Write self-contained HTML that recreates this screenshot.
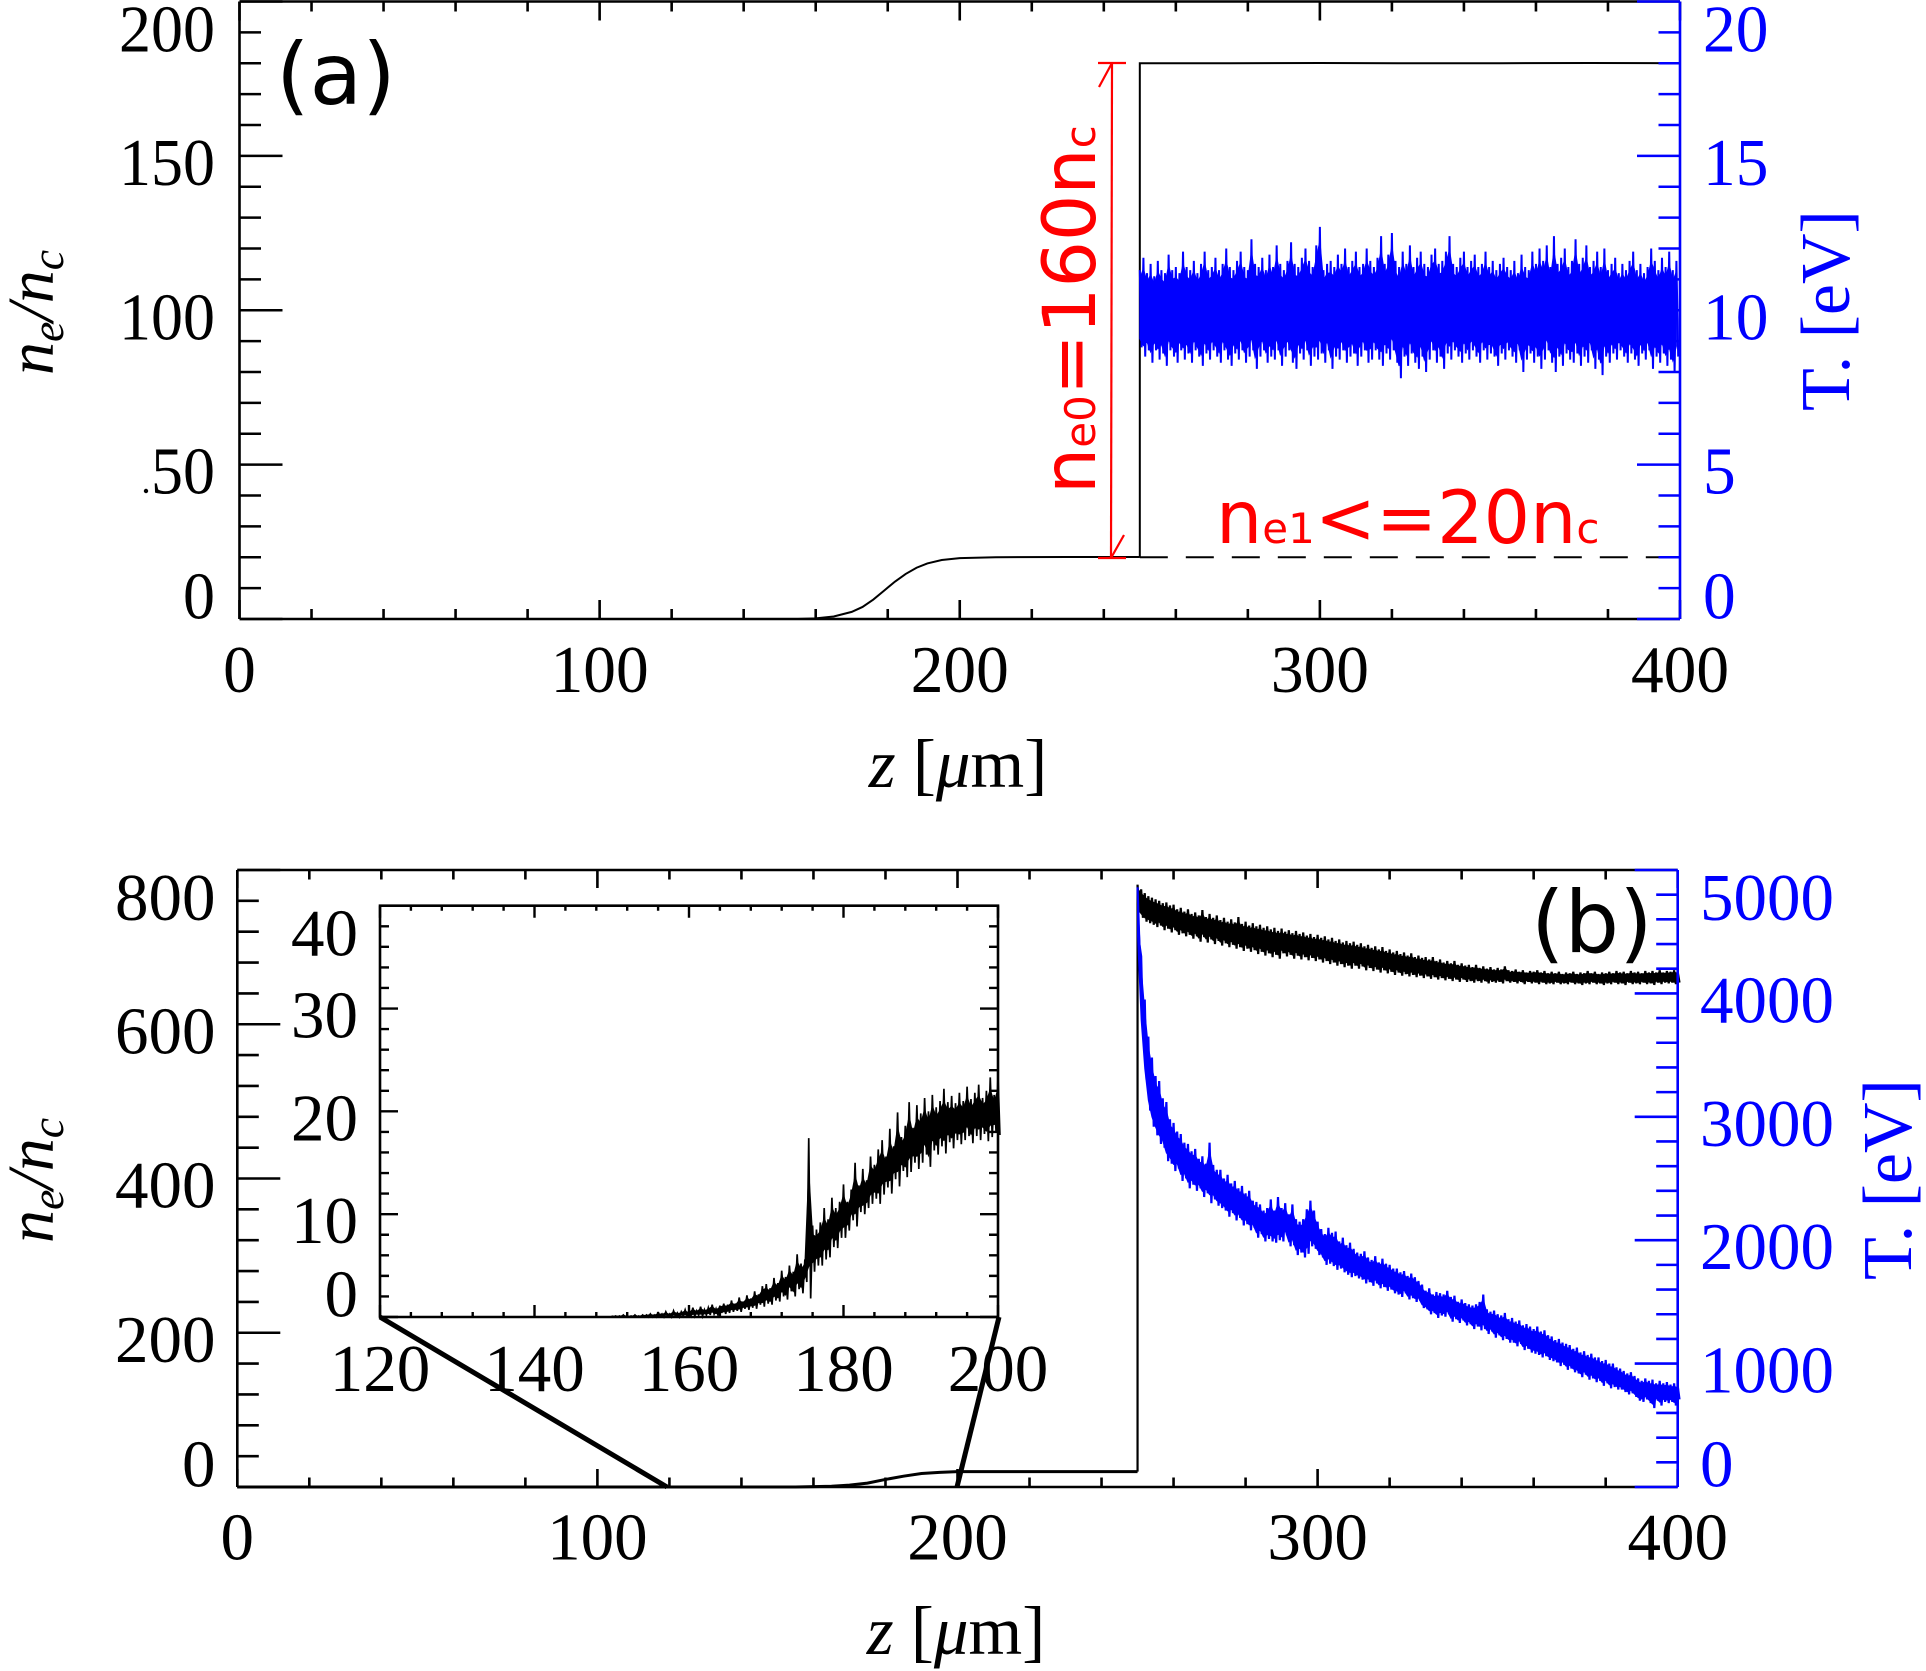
<!DOCTYPE html>
<html lang="en">
<head>
<meta charset="utf-8">
<title>Electron density and temperature profiles</title>
<style>
html,body{margin:0;padding:0;background:#fff;}
svg{display:block;}
text{font-family:"Liberation Serif",serif;}
.dj{font-family:"DejaVu Sans",sans-serif;}
</style>
</head>
<body>
<svg id="fig" xmlns="http://www.w3.org/2000/svg" width="1926" height="1671" viewBox="0 0 1926 1671">
  <rect x="0" y="0" width="1926" height="1671" fill="#fff"/>

  <g id="panel-a">
    <path id="a-low-line" fill="none" stroke="#000" stroke-width="2"/>
    <path id="a-step-line" fill="none" stroke="#000" stroke-width="2"/>
    <path id="a-dash-line" fill="none" stroke="#000" stroke-width="2" stroke-dasharray="28 18"/>
    <path id="a-temp-line" fill="none" stroke="#0000ff" stroke-width="2"/>
    <path id="a-temp-core" fill="#0000ff" stroke="#0000ff" stroke-width="1"/>
    <path id="a-frame" fill="none" stroke="#000" stroke-width="2.6"/>
    <path id="a-x-ticks" fill="none" stroke="#000" stroke-width="2.6"/>
    <path id="a-left-ticks" fill="none" stroke="#000" stroke-width="2.6"/>
    <path id="a-right-ticks" fill="none" stroke="#0000ff" stroke-width="2.6"/>
    <path id="a-right-axis" fill="none" stroke="#0000ff" stroke-width="2.6"/>
    <circle cx="146" cy="491" r="2.2" fill="#000"/>
    <text class="dj" x="276" y="104" font-size="86" fill="#000">(a)</text>
    <text x="958" y="787" font-size="69" text-anchor="middle" fill="#000"><tspan font-style="italic">z</tspan> [<tspan font-style="italic">μ</tspan>m]</text>
    <text transform="translate(53 375) rotate(-90)" font-size="66" font-style="italic" fill="#000">n<tspan font-size="46" dy="10">e</tspan><tspan dy="-10">/n</tspan><tspan font-size="46" dy="10">c</tspan></text>
    <text transform="translate(1849 411) rotate(-90)" font-size="70" fill="#0000ff">T. [eV]</text>
    <text class="dj" transform="translate(1095 494) rotate(-90)" font-size="73" fill="#ff0000">n<tspan font-size="42">e0</tspan>=160n<tspan font-size="42">c</tspan></text>
    <text class="dj" x="1216" y="543" font-size="73" fill="#ff0000">n<tspan font-size="42">e1</tspan>&lt;=20n<tspan font-size="42">c</tspan></text>
    <g fill="none" stroke="#ff0000" stroke-width="2.2">
      <path d="M1112 63L1111 558"/>
      <path d="M1098 63H1126M1112 63L1099 87"/>
      <path d="M1098 558H1126M1111 558L1124 535"/>
    </g>
  </g>

  <g id="panel-b">
    <path id="b-low-line" fill="none" stroke="#000" stroke-width="3"/>
    <path id="b-density-line" fill="none" stroke="#000" stroke-width="2.2"/>
    <path id="b-density-core" fill="#000" stroke="#000" stroke-width="1"/>
    <path id="b-temp-line" fill="none" stroke="#0000ff" stroke-width="2.2"/>
    <path id="b-temp-core" fill="#0000ff" stroke="#0000ff" stroke-width="1"/>
    <path id="b-frame" fill="none" stroke="#000" stroke-width="2.6"/>
    <path id="b-x-ticks" fill="none" stroke="#000" stroke-width="2.6"/>
    <path id="b-left-ticks" fill="none" stroke="#000" stroke-width="2.6"/>
    <path id="b-right-ticks" fill="none" stroke="#0000ff" stroke-width="2.6"/>
    <path id="b-right-axis" fill="none" stroke="#0000ff" stroke-width="2.6"/>
    <text class="dj" x="1531" y="952" font-size="86" fill="#000">(b)</text>
    <text x="956" y="1654" font-size="69" text-anchor="middle" fill="#000"><tspan font-style="italic">z</tspan> [<tspan font-style="italic">μ</tspan>m]</text>
    <text transform="translate(53 1243) rotate(-90)" font-size="66" font-style="italic" fill="#000">n<tspan font-size="46" dy="10">e</tspan><tspan dy="-10">/n</tspan><tspan font-size="46" dy="10">c</tspan></text>
    <text transform="translate(1911 1280) rotate(-90)" font-size="70" fill="#0000ff">T. [eV]</text>
    <path d="M380 1317L667 1487" fill="none" stroke="#000" stroke-width="5"/>
    <path d="M999 1317L957 1487" fill="none" stroke="#000" stroke-width="5"/>
  </g>

  <g id="panel-inset">
    <path id="i-line" fill="none" stroke="#000" stroke-width="1.7"/>
    <path id="i-core" fill="#000" stroke="#000" stroke-width="1"/>
    <path id="i-frame" fill="none" stroke="#000" stroke-width="2.6"/>
    <path id="i-x-ticks" fill="none" stroke="#000" stroke-width="2.4"/>
    <path id="i-y-ticks" fill="none" stroke="#000" stroke-width="2.4"/>
  </g>
  <g id="tick-labels"></g>
</svg>
<script>
// ---------- tick values ----------
const zTicks = [0, 100, 200, 300, 400];
const zTickLabels = ['0', '100', '200', '300', '400'];
const zMinorStep = 20;
const aDensityTicks = [0, 50, 100, 150, 200];
const aDensityLabels = ['0', '50', '100', '150', '200'];
const aDensityMinorStep = 10;
const aTempTicks = [0, 5, 10, 15, 20];
const aTempLabels = ['0', '5', '10', '15', '20'];
const aTempMinorStep = 1;
const bDensityTicks = [0, 200, 400, 600, 800];
const bDensityLabels = ['0', '200', '400', '600', '800'];
const bDensityMinorStep = 40;
const bTempTicks = [0, 1000, 2000, 3000, 4000, 5000];
const bTempLabels = ['0', '1000', '2000', '3000', '4000', '5000'];
const bTempMinorStep = 200;
const insetZTicks = [120, 140, 160, 180, 200];
const insetZLabels = ['120', '140', '160', '180', '200'];
const insetZMinorStep = 4;
const insetDensityTicks = [0, 10, 20, 30, 40];
const insetDensityLabels = ['0', '10', '20', '30', '40'];
const insetDensityMinorStep = 2;

// ---------- panel (a) data ----------
const aRampZ = [0, 155, 160, 165, 170, 173, 176, 179, 182, 185, 188, 191, 195, 200, 210, 230, 250];
const aRampN = [0, 0, 0.2, 0.8, 2.3, 3.9, 6.3, 9.2, 12.1, 14.6, 16.6, 18, 19.1, 19.7, 20, 20.1, 20.1];
const aStepZ = [250, 250, 275, 300, 325, 350, 375, 400];
const aStepN = [20, 180, 180, 180.1, 180, 180, 180.1, 180];
const aDashZ = [250, 400];
const aDashN = [20, 20];
const aTempStartZ = 250;
const aTempStepZ = 1;
const aTempHi = [11.3,11.7,11.2,11.5,11.1,11.6,11.3,11.2,11.8,11.3,11.4,11.2,11.9,11.4,11.3,11.6,11.2,11.5,11.9,11.3,
11.4,11.7,11.3,11.5,12.0,11.4,11.3,11.6,11.9,11.4,11.3,12.3,11.5,11.4,11.7,11.3,11.8,11.4,12.1,11.5,
11.3,11.6,12.2,11.5,11.4,11.7,12.0,11.6,11.4,12.1,12.7,11.3,11.5,11.6,11.4,11.8,11.5,12.0,11.4,11.6,
11.9,11.4,11.5,12.0,11.6,11.4,11.7,12.4,11.5,11.8,12.5,11.6,11.4,11.9,11.5,12.1,11.4,11.7,11.9,11.5,
11.4,11.8,12.0,11.5,11.6,11.9,12.4,11.5,11.4,11.7,11.9,11.4,11.6,11.8,11.4,11.5,11.9,11.4,11.6,11.3,
11.5,11.7,11.4,11.3,11.6,11.2,11.8,11.4,11.3,11.9,11.5,12.0,11.6,12.1,11.4,12.4,11.5,11.7,12.0,11.4,
11.6,12.3,11.5,11.7,12.1,11.4,11.6,11.9,11.4,12.0,11.3,11.5,11.7,11.2,11.5,11.3,11.6,11.9,11.3,11.5,
11.2,11.4,12.0,11.6,11.3,11.7,11.4,11.9,11.3,11.6];
const aTempLo = [8.8,8.5,8.7,8.3,8.7,8.4,8.6,8.2,8.7,8.5,8.3,8.7,8.4,8.6,8.3,8.7,8.5,8.2,8.6,8.4,
8.7,8.5,8.3,8.7,8.4,8.2,8.6,8.4,8.7,8.3,8.5,8.7,8.1,8.5,8.7,8.3,8.5,8.4,8.7,8.2,
8.5,8.7,8.3,8.1,8.6,8.4,8.7,8.2,8.5,8.4,8.6,8.3,8.7,8.1,8.5,8.4,8.7,8.3,8.5,8.6,
8.2,8.5,8.7,8.3,8.4,8.7,8.4,8.2,8.6,8.4,8.7,8.3,7.8,8.5,8.2,8.6,8.3,8.1,8.5,8.0,
8.4,8.7,8.3,8.5,8.1,8.6,8.4,8.7,8.5,8.3,8.6,8.4,8.7,8.5,8.3,8.7,8.4,8.6,8.5,8.2,
8.6,8.4,8.7,8.5,8.3,8.7,8.0,8.4,8.6,8.3,8.5,8.1,8.4,8.7,8.3,8.0,8.5,8.2,8.6,8.4,
8.3,8.6,8.2,8.5,8.3,8.7,8.1,8.4,7.9,8.5,8.3,8.6,8.4,8.7,8.5,8.3,8.6,8.4,8.2,8.6,
8.4,8.7,8.1,8.5,8.3,8.6,8.2,8.4,8.0,8.5];

// ---------- panel (b) data ----------
const bLowZ = [0, 155, 165, 170, 175, 180, 185, 190, 195, 200, 220, 250];
const bLowN = [0, 0, 1, 2.5, 5, 9.8, 14, 17.5, 19, 20, 20, 20];
const bStartZ = 250;
const bStepZ = 1;
const bDensityHi = [781,775,770,766,764,762,760,757,758,754,755,749,751,746,749,743,745,741,748,739,
743,738,741,735,738,733,736,732,739,730,733,728,731,727,729,725,727,723,725,721,
724,720,722,718,721,717,719,715,717,713,716,712,714,710,712,708,710,706,708,705,
707,703,705,701,703,699,701,697,700,695,697,693,695,691,693,689,692,687,689,686,
687,684,687,682,684,680,682,679,682,677,679,676,677,674,677,673,675,672,674,671,
673,671,675,670,669,671,668,670,667,669,668,670,667,669,666,668,666,668,665,667,
666,668,665,667,666,669,666,668,665,667,666,668,666,669,667,668,666,669,667,668,
666,669,667,669,667,670,667,669,668,670,668];
const bDensityLo = [745,738,733,731,729,726,728,722,724,719,722,716,718,714,716,711,714,707,713,706,
710,704,708,702,705,700,703,698,700,695,698,694,696,691,694,689,692,687,690,685,
692,688,690,685,689,684,687,683,686,682,684,680,682,678,680,676,678,674,676,672,
676,672,675,670,673,669,671,667,670,666,668,664,667,663,665,662,664,661,663,660,
662,659,661,658,660,657,659,656,658,655,658,655,656,654,656,654,656,653,655,654,
655,653,656,654,655,653,655,652,655,653,654,652,654,652,653,652,654,652,653,652,
654,652,653,651,653,652,654,652,653,651,653,652,654,652,653,651,654,652,653,652,
654,652,653,651,654,652,654,653,654,652,654];
const bTempHi = [4860,4300,3950,3650,3480,3330,3290,3150,3120,2980,2950,2880,2860,2790,2780,2720,2740,2660,2680,2620,
2790,2610,2570,2570,2500,2530,2460,2480,2420,2440,2380,2400,2320,2310,2290,2240,2260,2330,2240,2350,
2260,2300,2210,2290,2170,2150,2170,2250,2320,2240,2150,2090,2050,2100,2060,2070,1990,2020,1960,1980,
1930,1900,1890,1910,1860,1840,1870,1820,1850,1810,1800,1770,1770,1740,1750,1710,1730,1700,1670,1640,
1590,1610,1560,1580,1570,1560,1590,1540,1550,1500,1520,1490,1480,1470,1480,1500,1560,1440,1420,1430,
1400,1390,1410,1360,1370,1340,1350,1310,1320,1300,1280,1300,1260,1270,1230,1220,1190,1200,1170,1160,
1150,1120,1130,1090,1100,1070,1080,1050,1050,1020,1030,1000,1000,970,960,940,920,930,900,880,
860,880,860,870,840,860,840,850,830,840,820];
const bTempLo = [4400,3700,3300,3050,2920,2850,2780,2750,2640,2620,2560,2580,2480,2500,2420,2450,2400,2420,2350,2380,
2300,2330,2280,2260,2240,2190,2220,2160,2180,2120,2130,2080,2100,2020,2050,1990,2010,1990,1980,2000,
1990,2040,1950,1960,1880,1900,1860,1890,1950,1930,1880,1860,1800,1810,1790,1760,1770,1740,1720,1700,
1710,1690,1680,1650,1660,1630,1650,1610,1620,1590,1600,1570,1560,1540,1570,1520,1530,1500,1510,1450,
1440,1400,1410,1370,1390,1380,1400,1340,1360,1330,1350,1310,1320,1280,1300,1270,1280,1240,1260,1210,
1230,1190,1200,1170,1170,1140,1160,1110,1120,1090,1080,1070,1050,1060,1030,1020,1010,980,990,950,
960,930,920,890,910,870,880,850,860,820,840,800,810,790,790,770,750,760,730,700,
690,710,680,640,700,660,690,680,690,660,710];

// ---------- inset data ----------
const insetStartZ = 150;
const insetStepZ = 0.5;
const insetHi = [0.1,0.1,0.1,0.2,0.1,0.1,0.2,0.1,0.2,0.2,
0.3,0.2,0.4,0.3,0.5,0.3,0.6,0.4,0.5,0.7,
0.5,0.9,0.6,1.0,0.7,0.9,1.2,0.8,1.1,1.3,
1.2,1.6,1.3,1.9,1.5,2.1,1.8,2.5,2.2,3.0,
3.2,2.8,3.8,3.3,4.5,3.9,5.0,4.4,6.1,5.2,
5.6,17.4,8.9,8.5,9.2,10.6,9.5,11.6,10.6,11.2,
12.9,11.2,12.4,15.0,12.8,14.4,13.3,15.6,14.8,16.3,
17.2,15.6,18.3,16.6,19.9,17.5,18.6,20.9,18.4,20.6,
19.8,21.3,20.0,21.6,20.4,21.0,22.2,20.9,21.5,20.8,
21.8,21.0,22.4,21.2,21.8,22.6,21.3,22.0,23.3,21.6,
23.4];
const insetLo = [0,0,0,0,0,0,0,0,0,0,
0,0,0.1,0,0.1,0,0.1,0,0.1,0.1,
0.1,0.1,0.2,0.1,0.2,0.2,0.3,0.2,0.4,0.3,
0.4,0.5,0.6,0.5,0.8,0.7,0.9,0.8,1.2,1.0,
1.3,1.2,1.6,1.5,2.0,1.7,2.5,2.0,2.7,2.3,
3.4,1.8,4.4,5.0,5.0,5.6,5.8,6.8,6.7,7.7,
7.7,8.4,9.4,8.8,10.2,10.0,10.6,11.0,11.5,11.0,
11.9,12.6,12.0,13.4,12.7,14.2,13.6,14.1,15.0,14.4,
15.0,15.8,14.6,16.2,15.8,16.6,15.9,17.0,16.4,17.2,
16.8,17.2,17.6,16.9,17.6,17.2,17.8,17.1,17.5,18.0,
17.7];

// ---------- axis functions ----------
function linear(d0, d1, r0, r1) {
  return function (v) { return r0 + (v - d0) * (r1 - r0) / (d1 - d0); };
}
const aX = linear(0, 400, 239.5, 1680);
const aYN = linear(0, 200, 619, 1.5);
const aYT = linear(0, 20, 619, 1.5);
const bX = linear(0, 400, 237.3, 1677.7);
const bYN = linear(0, 800, 1487, 870);
const bYT = linear(0, 5000, 1487, 870);
const iX = linear(120, 200, 380, 998);
const iY = linear(0, 40, 1317, 905.7);

function byId(id) { return document.getElementById(id); }

function linePath(xs, ys, xf, yf) {
  let d = '';
  for (let i = 0; i < xs.length; i++) {
    d += (i ? 'L' : 'M') + xf(xs[i]).toFixed(2) + ' ' + yf(ys[i]).toFixed(2);
  }
  return d;
}
function zigzagPath(startZ, stepZ, hi, lo, xf, yf) {
  let d = '';
  for (let i = 0; i < hi.length; i++) {
    const z = startZ + i * stepZ;
    d += (i ? 'L' : 'M') + xf(z).toFixed(2) + ' ' + yf(hi[i]).toFixed(2);
    d += 'L' + xf(z + stepZ / 2).toFixed(2) + ' ' + yf(lo[i]).toFixed(2);
  }
  return d;
}
// Closed solid core of a noisy band: the inner share of each hi/lo span.
function corePath(startZ, stepZ, hi, lo, share, xf, yf) {
  let top = '', bottom = '';
  for (let i = 0; i < hi.length; i++) {
    const z = startZ + i * stepZ;
    const mid = (hi[i] + lo[i]) / 2;
    const half = (hi[i] - lo[i]) / 2 * share;
    top += (i ? 'L' : 'M') + xf(z).toFixed(2) + ' ' + yf(mid + half).toFixed(2);
    bottom = 'L' + xf(z).toFixed(2) + ' ' + yf(mid - half).toFixed(2) + bottom;
  }
  return top + bottom + 'Z';
}
function tickValues(majors, minorStep) {
  const out = [];
  const lo = majors[0], hi = majors[majors.length - 1];
  const n = Math.round((hi - lo) / minorStep);
  for (let i = 0; i <= n; i++) {
    const v = lo + i * minorStep;
    out.push({ v: v, major: majors.indexOf(v) >= 0 });
  }
  return out;
}
function xTickPath(majors, minorStep, xf, yBottom, yTop, lenMajor, lenMinor) {
  let d = '';
  tickValues(majors, minorStep).forEach(function (t) {
    const L = t.major ? lenMajor : lenMinor;
    const x = xf(t.v).toFixed(2);
    d += 'M' + x + ' ' + yBottom + 'V' + (yBottom - L);
    d += 'M' + x + ' ' + yTop + 'V' + (yTop + L);
  });
  return d;
}
function yTickPath(majors, minorStep, yf, xEdge, dir, lenMajor, lenMinor) {
  let d = '';
  tickValues(majors, minorStep).forEach(function (t) {
    const L = t.major ? lenMajor : lenMinor;
    const y = yf(t.v).toFixed(2);
    d += 'M' + xEdge + ' ' + y + 'H' + (xEdge + dir * L);
  });
  return d;
}

const labelsGroup = byId('tick-labels');
function addLabel(str, x, y, anchor, size, color, charWidth) {
  const el = document.createElementNS('http://www.w3.org/2000/svg', 'text');
  
  
  el.setAttribute('x', x);
  el.setAttribute('y', y);
  el.setAttribute('text-anchor', anchor);
  el.setAttribute('font-size', size);
  el.setAttribute('fill', color);
  if (charWidth) {
    el.setAttribute('textLength', str.length * charWidth);
    el.setAttribute('lengthAdjust', 'spacingAndGlyphs');
  }
  el.textContent = str;
  labelsGroup.appendChild(el);
}
function yLabelBaseline(y, idx, count) {
  if (idx === 0) return y - 0.5;
  if (idx === count - 1) return y + 50;
  return y + 29;
}
function yLabels(ticks, labels, yf, x, anchor, size, color, charWidth) {
  ticks.forEach(function (v, i) {
    addLabel(labels[i], x, yLabelBaseline(yf(v), i, ticks.length), anchor, size, color, charWidth);
  });
}
function xLabels(ticks, labels, xf, y, size, charWidth) {
  ticks.forEach(function (v, i) {
    addLabel(labels[i], xf(v), y, 'middle', size, '#000', charWidth);
  });
}

// ---------- panel (a) ----------
byId('a-frame').setAttribute('d', 'M239.5 1.5H1680M239.5 1.5V619M239.5 619H1680');
byId('a-right-axis').setAttribute('d', 'M1680 1.5V619');
byId('a-x-ticks').setAttribute('d', xTickPath(zTicks, zMinorStep, aX, 619, 1.5, 19, 10));
byId('a-left-ticks').setAttribute('d', yTickPath(aDensityTicks, aDensityMinorStep, aYN, 239.5, 1, 43, 21.5));
byId('a-right-ticks').setAttribute('d', yTickPath(aTempTicks, aTempMinorStep, aYT, 1680, -1, 43, 21.5));
byId('a-low-line').setAttribute('d', linePath(aRampZ, aRampN, aX, aYN));
byId('a-step-line').setAttribute('d', linePath(aStepZ, aStepN, aX, aYN));
byId('a-dash-line').setAttribute('d', linePath(aDashZ, aDashN, aX, aYN));
byId('a-temp-line').setAttribute('d', zigzagPath(aTempStartZ, aTempStepZ, aTempHi, aTempLo, aX, aYT));
byId('a-temp-core').setAttribute('d', corePath(aTempStartZ, aTempStepZ, aTempHi, aTempLo, 0.78, aX, aYT));
xLabels(zTicks, zTickLabels, aX, 692, 67, 32.7);
yLabels(aDensityTicks, aDensityLabels, aYN, 215, 'end', 67, '#000', 32);
yLabels(aTempTicks, aTempLabels, aYT, 1703, 'start', 67, '#0000ff', 32.7);

// ---------- panel (b) ----------
byId('b-frame').setAttribute('d', 'M237.3 870H1677.7M237.3 870V1487M237.3 1487H1677.7');
byId('b-right-axis').setAttribute('d', 'M1677.7 870V1487');
byId('b-x-ticks').setAttribute('d', xTickPath(zTicks, zMinorStep, bX, 1487, 870, 18, 9.5));
byId('b-left-ticks').setAttribute('d', yTickPath(bDensityTicks, bDensityMinorStep, bYN, 237.3, 1, 43, 21.5));
byId('b-right-ticks').setAttribute('d', yTickPath(bTempTicks, bTempMinorStep, bYT, 1677.7, -1, 43, 21.5));
byId('b-low-line').setAttribute('d', linePath(bLowZ, bLowN, bX, bYN));
byId('b-density-line').setAttribute('d',
  linePath([bStartZ, bStartZ], [bLowN[bLowN.length - 1], bDensityHi[0]], bX, bYN) +
  zigzagPath(bStartZ, bStepZ, bDensityHi, bDensityLo, bX, bYN).replace('M', 'L'));
byId('b-density-core').setAttribute('d', corePath(bStartZ, bStepZ, bDensityHi, bDensityLo, 0.72, bX, bYN));
byId('b-temp-line').setAttribute('d', zigzagPath(bStartZ, bStepZ, bTempHi, bTempLo, bX, bYT));
byId('b-temp-core').setAttribute('d', corePath(bStartZ, bStepZ, bTempHi, bTempLo, 0.72, bX, bYT));
xLabels(zTicks, zTickLabels, bX, 1559.5, 67);
yLabels(bDensityTicks, bDensityLabels, bYN, 215.5, 'end', 67, '#000');
yLabels(bTempTicks, bTempLabels, bYT, 1700, 'start', 67, '#0000ff');

// ---------- inset ----------
byId('i-frame').setAttribute('d', 'M380 905.7H998V1317H380Z');
byId('i-x-ticks').setAttribute('d', xTickPath(insetZTicks, insetZMinorStep, iX, 1317, 905.7, 12, 5));
byId('i-y-ticks').setAttribute('d',
  yTickPath(insetDensityTicks, insetDensityMinorStep, iY, 380, 1, 18, 9) +
  yTickPath(insetDensityTicks, insetDensityMinorStep, iY, 998, -1, 18, 9));
byId('i-line').setAttribute('d', zigzagPath(insetStartZ, insetStepZ, insetHi, insetLo, iX, iY));
byId('i-core').setAttribute('d', corePath(insetStartZ, insetStepZ, insetHi, insetLo, 0.6, iX, iY));
xLabels(insetZTicks, insetZLabels, iX, 1391, 67);
yLabels(insetDensityTicks, insetDensityLabels, iY, 358, 'end', 67, '#000');
</script>
</body>
</html>
